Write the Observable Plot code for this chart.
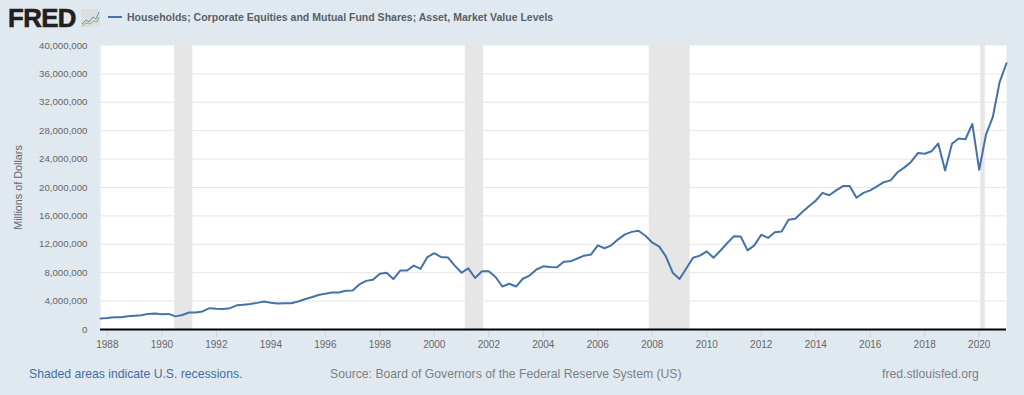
<!DOCTYPE html>
<html>
<head>
<meta charset="utf-8">
<script src="https://cdn.jsdelivr.net/npm/d3@7"></script>
<script src="https://cdn.jsdelivr.net/npm/@observablehq/plot@0.6"></script>
<style>
html,body{margin:0;padding:0;background:#e1e9f0;width:1024px;height:395px;overflow:hidden;font-family:"Liberation Sans",Arial,sans-serif}
#head{position:relative;height:38px}
#foot{position:relative;height:37px;font-size:12.2px}
#foot span{position:absolute;top:9px;white-space:nowrap}
#chart svg{display:block;background:transparent}
</style>
</head>
<body>
<div id="head">
  <span style="position:absolute;left:8px;top:4px;font-size:25.8px;font-weight:bold;color:#231f20;letter-spacing:-.6px;-webkit-text-stroke:.6px #231f20;line-height:28px">FRED</span>
  <svg style="position:absolute;left:81px;top:9px" width="19" height="18" viewBox="0 0 19 18" aria-hidden="true">
    <rect width="19" height="18" fill="#dcdfdf"/>
    <polyline points="1,15 5,11 8,13 12,8 15,10 18,3" fill="none" stroke="#5f8fcb" stroke-width="1"/>
    <polyline points="1,17 5,14 9,15 13,12 16,13 18,8" fill="none" stroke="#8fb85c" stroke-width="1"/>
  </svg>
  <span style="position:absolute;left:108px;top:16px;width:14px;height:2px;background:#4572a7"></span>
  <span style="position:absolute;left:127px;top:11px;font-size:10.52px;font-weight:bold;color:#595f66;white-space:nowrap">Households; Corporate Equities and Mutual Fund Shares; Asset, Market Value Levels</span>
</div>
<div id="chart"></div>
<div id="foot">
  <span style="left:29px;color:#3f6ea6">Shaded areas indicate U.S. recessions.</span>
  <span style="left:330px;color:#7c8084">Source: Board of Governors of the Federal Reserve System (US)</span>
  <span style="left:882px;color:#7c8084">fred.stlouisfed.org</span>
</div>
<script>
const seriesName = "Households; Corporate Equities and Mutual Fund Shares; Asset, Market Value Levels";
const firstQuarter = [1987, 9];           // October 1987
const valuesMillions = [
  1.55,
  1.62,1.72,1.74,1.85,
  1.92,2.0,2.2,2.27,
  2.15,2.2,1.85,2.05,
  2.4,2.4,2.55,3.0,
  2.92,2.9,3.0,3.4,
  3.5,3.6,3.75,3.95,
  3.78,3.65,3.7,3.7,
  3.95,4.25,4.55,4.85,
  5.05,5.2,5.2,5.45,
  5.5,6.35,6.85,7.0,
  7.85,8.0,7.1,8.3,
  8.3,9.0,8.55,10.2,
  10.75,10.2,10.15,9.0,
  8.0,8.6,7.25,8.2,
  8.2,7.4,6.05,6.45,
  6.05,7.15,7.6,8.45,
  8.9,8.8,8.75,9.55,
  9.6,10.0,10.4,10.55,
  11.85,11.45,11.85,12.7,
  13.4,13.75,13.9,13.2,
  12.25,11.7,10.3,8.0,
  7.1,8.6,10.1,10.4,
  11.0,10.1,11.1,12.15,
  13.15,13.1,11.15,11.85,
  13.35,12.9,13.7,13.8,
  15.45,15.6,16.5,17.35,
  18.15,19.25,18.9,19.6,
  20.2,20.2,18.55,19.25,
  19.6,20.15,20.75,21.0,
  22.15,22.8,23.6,24.85,
  24.75,25.1,26.2,22.4,
  26.15,26.9,26.8,28.95,
  22.5,27.45,29.9,34.85,
  37.5
];
const recessionStarts = ["1990-07-01","2001-03-01","2007-12-01","2020-02-01"];
const recessionEnds   = ["1991-03-01","2001-11-01","2009-06-01","2020-04-01"];
const yTicks = [0,4,8,12,16,20,24,28,32,36,40];
const xTickYears = [1988,1990,1992,1994,1996,1998,2000,2002,2004,2006,2008,2010,2012,2014,2016,2018,2020];

const series = valuesMillions.map((v,i)=>({
  date:new Date(Date.UTC(firstQuarter[0], firstQuarter[1]+3*i, 1)),
  value:v*1e6
}));
const recessions = recessionStarts.map((s,i)=>({start:new Date(s),end:new Date(recessionEnds[i])}));
const xTicks = xTickYears.map(y=>new Date(Date.UTC(y,0,1)));
const fmt = d3.format(",");

const plot = Plot.plot({
  width:1024,
  height:320,
  marginLeft:100,
  marginRight:18,
  marginTop:7,
  marginBottom:29,
  style:{fontFamily:'"Liberation Sans",Arial,sans-serif',fontSize:"10px",background:"transparent",overflow:"visible"},
  x:{type:"utc",domain:[series[0].date,series[series.length-1].date]},
  y:{domain:[0,40e6]},
  marks:[
    Plot.frame({fill:"#ffffff",stroke:null}),
    Plot.gridY(yTicks.slice(1,-1).map(d=>d*1e6),{stroke:"#e6e6e6",strokeOpacity:1,strokeWidth:1}),
    Plot.rectX(recessions,{x1:"start",x2:"end",y1:0,y2:40e6,fill:"#e6e6e6",dx:-0.7}),
    Plot.axisX({ticks:xTicks,tickFormat:d=>String(d.getUTCFullYear()),tickSize:8,tickPadding:3,stroke:"#c8d6e6",fill:"#666666",fontSize:10,label:null}),
    Plot.axisY({ticks:yTicks.map(d=>d*1e6),tickFormat:fmt,tickSize:0,tickPadding:13,fill:"#666666",fontSize:9.7,label:"Millions of Dollars",labelAnchor:"center",labelArrow:"none",labelOffset:86}),
    Plot.line(series,{x:"date",y:"value",stroke:"#4572a7",strokeWidth:2,strokeLinejoin:"round",clip:false}),
    Plot.ruleY([0],{stroke:"#000000",strokeWidth:2})
  ]
});
d3.select(plot).selectAll('[aria-label="y-axis label"]').style("font-size","10.8px");
document.getElementById("chart").appendChild(plot);
</script>
</body>
</html>
